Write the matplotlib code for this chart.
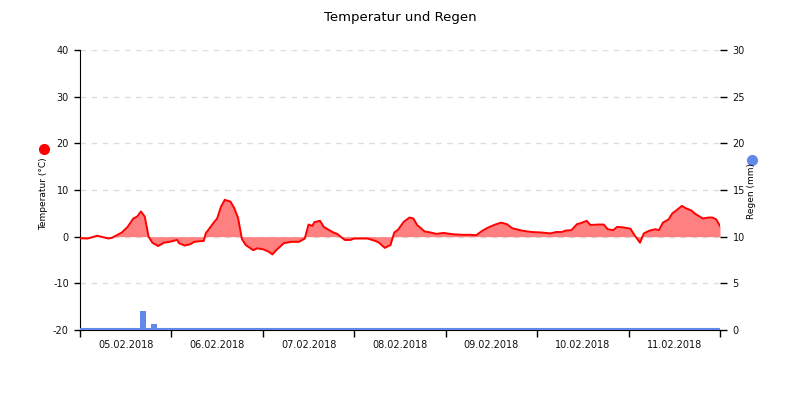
import numpy as np
import pandas as pd
import matplotlib
matplotlib.use("Agg")
import matplotlib.pyplot as plt
import matplotlib.dates as mdates

plt.rcParams["axes.unicode_minus"] = False

# Temperatur: Stunden ab 05.02.2018 00:00 und Werte in °C
temp_hours = [0, 2, 4.5, 7.5, 8.5, 11, 12.5, 14, 15, 16, 17, 18, 19, 20.5, 22, 23.5,
              25.5, 26, 27.5, 29, 30, 32.5, 33, 35, 36, 37, 38, 39.5, 40.5, 41.5,
              42.5, 43.5, 45.5, 46.5, 48, 49.5, 50.5, 51.5, 53.5, 55.5, 57.5, 59,
              60, 61, 61.5, 63, 64, 65, 66.5, 67.5, 69.5, 71, 72, 74, 75.5, 77.5,
              78.5, 80, 81.5, 82.5, 83.5, 85, 86.5, 87.5, 88.5, 90.5, 92, 93.5,
              95.5, 98, 100.5, 102.5, 104, 105.5, 107, 109, 110.5, 112, 113.5, 116,
              118.5, 121, 123.5, 125, 126.5, 127.5, 129, 130.5, 131.5, 133, 134,
              136, 137.5, 138.5, 140, 141, 142.5, 144.5, 145.5, 147, 148, 149.5,
              151, 152, 153, 154.5, 155.5, 156.5, 158, 159, 160.5, 161.5, 163.5,
              165, 166, 167, 168]
temp_values = [-0.35, -0.4, 0.2, -0.4, -0.2, 0.9, 2.1, 3.9, 4.3, 5.4, 4.3, 0.0, -1.3,
               -2.0, -1.3, -1.1, -0.7, -1.4, -1.9, -1.6, -1.1, -0.9, 0.7, 2.9, 3.9,
               6.4, 7.9, 7.5, 6.1, 4.0, -0.5, -1.8, -2.9, -2.5, -2.7, -3.2, -3.8,
               -2.9, -1.4, -1.1, -1.1, -0.4, 2.6, 2.3, 3.1, 3.4, 2.1, 1.6, 0.9, 0.6,
               -0.7, -0.7, -0.4, -0.4, -0.4, -0.9, -1.3, -2.4, -1.8, 0.9, 1.5, 3.2,
               4.1, 3.9, 2.5, 1.1, 0.9, 0.6, 0.8, 0.5, 0.4, 0.4, 0.3, 1.2, 1.9, 2.6,
               3.0, 2.7, 1.8, 1.3, 1.0, 0.9, 0.7, 1.0, 1.0, 1.3, 1.4, 2.7, 2.9, 3.4,
               2.5, 2.6, 2.6, 1.6, 1.4, 2.1, 2.0, 1.7, 0.4, -1.3, 0.7, 1.3, 1.6, 1.4,
               3.0, 3.7, 5.0, 5.6, 6.6, 6.1, 5.6, 4.9, 3.9, 4.1, 4.1, 3.7, 2.3]

# Regen
rain_hours = [16.5, 19.5]
rain_mm = [2.0, 0.6]

start = pd.Timestamp("2018-02-05 00:00")
end = pd.Timestamp("2018-02-12 00:00")
t = start + pd.to_timedelta(temp_hours, unit="h")
tr = start + pd.to_timedelta(rain_hours, unit="h")

red = "#ff0000"
blue = "#6289ea"

fig = plt.figure(figsize=(8, 4), dpi=100)
ax = fig.add_axes([0.1, 0.175, 0.8, 0.7])
ax2 = ax.twinx()

ax.set_ylim(-20, 40)
ax2.set_ylim(0, 30)
ax.set_xlim(start, end)

ax.set_yticks(np.arange(-20, 41, 10))
ax2.set_yticks(np.arange(0, 31, 5))
ax.grid(axis="y", color="#dddddd", linestyle=(0, (4, 4)), linewidth=1)
ax.set_axisbelow(True)

ax.fill_between(t, temp_values, 0, color="#ff8080", linewidth=0, zorder=2)
ax.plot(t, temp_values, color=red, linewidth=1.4, zorder=3)

ax2.bar(tr, rain_mm, width=1.6 / 24, color=blue, zorder=2)
ax2.axhline(0.08, color=blue, linewidth=1.5, zorder=1)

ax.xaxis.set_major_locator(mdates.DayLocator())
ax.xaxis.set_major_formatter(plt.NullFormatter())
ax.xaxis.set_minor_locator(mdates.HourLocator(byhour=12))
ax.xaxis.set_minor_formatter(mdates.DateFormatter("%d.%m.%Y"))
ax.tick_params(axis="x", which="major", length=5, width=1, color="black")
ax.tick_params(axis="x", which="minor", length=0, pad=7, labelsize=7, labelcolor="#111111")
ax.tick_params(axis="y", length=4, width=1, pad=4, labelsize=7, labelcolor="#111111")
ax2.tick_params(axis="y", length=5, width=1, pad=4, labelsize=7, labelcolor="#111111")

for s in ["top", "right"]:
    ax.spines[s].set_visible(False)
for s in ["top", "right", "left", "bottom"]:
    ax2.spines[s].set_visible(False)
ax.spines["left"].set_color("black")
ax.spines["bottom"].set_color("black")

fig.text(0.5, 0.957, "Temperatur und Regen", ha="center", va="center", fontsize=9.5)
fig.text(0.055, 0.515, "Temperatur (°C)", rotation=90, ha="center", va="center", fontsize=6.5)
fig.text(0.94, 0.523, "Regen (mm)", rotation=90, ha="center", va="center", fontsize=6.5)
fig.add_artist(plt.Line2D([0.055], [1 - 149 / 400], marker="o", markersize=7, color=red,
                          transform=fig.transFigure))
fig.add_artist(plt.Line2D([0.94], [1 - 160 / 400], marker="o", markersize=7, color=blue,
                          transform=fig.transFigure))

fig.savefig("out.png", dpi=100)
